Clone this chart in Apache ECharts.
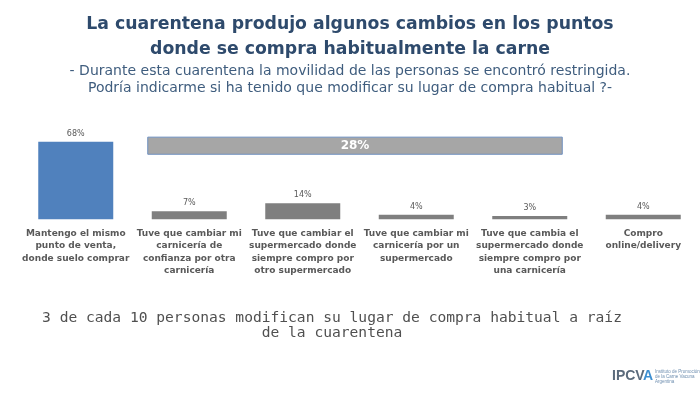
<!DOCTYPE html>
<html>
<head>
<meta charset="utf-8">
<script src="https://cdn.jsdelivr.net/npm/echarts@6/dist/echarts.min.js"></script>
<style>
html,body{margin:0;padding:0;background:#ffffff;}
#chart{width:700px;height:393px;}
</style>
</head>
<body>
<div id="chart"></div>
<script>
// ---- data ----
const titleText = "La cuarentena produjo algunos cambios en los puntos\ndonde se compra habitualmente la carne";
const subtitleText = "- Durante esta cuarentena la movilidad de las personas se encontró restringida.\nPodría indicarme si ha tenido que modificar su lugar de compra habitual ?-";
const footnoteText = "3 de cada 10 personas modifican su lugar de compra habitual a raíz\nde la cuarentena";
const categories = [
  "Mantengo el mismo\npunto de venta,\ndonde suelo comprar",
  "Tuve que cambiar mi\ncarnicería de\nconfianza por otra\ncarnicería",
  "Tuve que cambiar el\nsupermercado donde\nsiempre compro por\notro supermercado",
  "Tuve que cambiar mi\ncarnicería por un\nsupermercado",
  "Tuve que cambia el\nsupermercado donde\nsiempre compro por\nuna carnicería",
  "Compro\nonline/delivery"
];
const values = [68, 7, 14, 4, 3, 4];
// summary bracket: from category index 1 to 4, total 28%
const summarySpan = [[1, 4, 28]];

// ---- chart ----
const chart = echarts.init(document.getElementById('chart'), null, {renderer: 'canvas'});
const FONT = "'DejaVu Sans', sans-serif";

chart.setOption({
  backgroundColor: '#ffffff',
  animation: false,
  title: [
    {
      text: titleText, left: 'center', top: 7,
      textStyle: {fontFamily: FONT, fontSize: 17.3, fontWeight: 'bold', color: '#2e4a6c', lineHeight: 25, align: 'center'}
    },
    {
      text: subtitleText, left: 'center', top: 58,
      textStyle: {fontFamily: FONT, fontSize: 14, fontWeight: 'normal', color: '#3f5d7e', lineHeight: 17, align: 'center'}
    },
    {
      text: footnoteText, left: 327, top: 306, textAlign: 'center',
      textStyle: {fontFamily: "'DejaVu Sans Mono', monospace", fontSize: 14.6, fontWeight: 'normal', color: '#505050', lineHeight: 15, align: 'center'}
    }
  ],
  grid: {left: 19, right: 0, top: 105.2, bottom: 173.7, containLabel: false},
  xAxis: {
    type: 'category',
    data: categories,
    axisLine: {show: false},
    axisTick: {show: false},
    axisLabel: {
      interval: 0, margin: 8,
      fontFamily: FONT, fontSize: 9, fontWeight: 'bold', color: '#595959', lineHeight: 12.5
    }
  },
  yAxis: {
    type: 'value', min: 0, max: 100, show: false,
    splitLine: {show: false}
  },
  series: [
    {
      type: 'bar',
      data: values.map((v, i) => ({
        value: v,
        itemStyle: {color: i === 0 ? '#5081bd' : '#7f7f7f'}
      })),
      barWidth: 75,
      label: {
        show: true, position: 'top', distance: 4,
        formatter: '{c}%',
        fontFamily: FONT, fontSize: 8, color: '#595959'
      }
    },
    {
      type: 'custom',
      data: summarySpan,
      z: 3,
      renderItem: function (params, api) {
        const barW = 75;
        const a = api.coord([api.value(0), 0]);
        const b = api.coord([api.value(1), 0]);
        const top = api.coord([0, 72])[1];
        const bot = api.coord([0, 57])[1];
        const x0 = a[0] - barW / 2 - 4;
        const x1 = b[0] + barW / 2 - 5;
        return {
          type: 'group',
          children: [
            {
              type: 'rect',
              shape: {x: x0, y: top, width: x1 - x0, height: bot - top},
              style: {fill: '#a6a6a6', stroke: '#6d8fbf', lineWidth: 1}
            },
            {
              type: 'text',
              style: {
                x: (x0 + x1) / 2, y: (top + bot) / 2,
                text: api.value(2) + '%',
                fill: '#ffffff', font: "bold 12px 'DejaVu Sans', sans-serif",
                align: 'center', verticalAlign: 'middle'
              }
            }
          ]
        };
      }
    }
  ],
  graphic: [
    {
      type: 'text', left: 612, top: 369,
      style: {text: 'IPCV', fill: '#5b6b7c', font: "bold 14px 'Liberation Sans Narrow', 'Liberation Sans', sans-serif"}
    },
    {
      type: 'text', left: 643, top: 369,
      style: {text: 'A', fill: '#3d8fd1', font: "bold 14px 'Liberation Sans Narrow', 'Liberation Sans', sans-serif"}
    },
    {
      type: 'text', left: 655, top: 369,
      style: {text: 'Instituto de Promoción\nde la Carne Vacuna\nArgentina', fill: '#6f8fb0', font: "4.5px 'Liberation Sans', sans-serif", lineHeight: 5}
    }
  ]
});
</script>
</body>
</html>
